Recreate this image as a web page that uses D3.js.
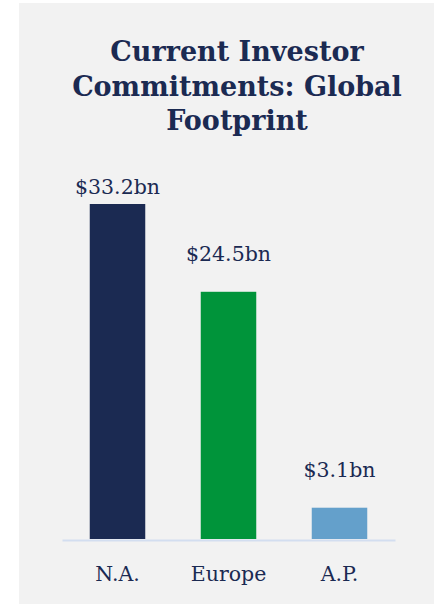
<!DOCTYPE html>
<html>
<head>
<meta charset="utf-8">
<script src="https://cdn.jsdelivr.net/npm/d3@7"></script>
<style>
  html, body { margin: 0; padding: 0; background: #ffffff; }
  svg { display: block; }
</style>
</head>
<body>
<svg id="chart" width="434" height="604"></svg>
<script>
// Regions and committed capital (USD billions)
const categories = ["N.A.", "Europe", "A.P."];
const values = [33.2, 24.5, 3.1];
const valueLabels = ["$33.2bn", "$24.5bn", "$3.1bn"];
const barColors = ["#1b2a52", "#00943a", "#64a0cb"];
const titleLines = ["Current Investor", "Commitments: Global", "Footprint"];

const W = 434, H = 604;
const navy = "#1b2a52";
const serif = "Georgia, 'DejaVu Serif', serif";

const svg = d3.select("#chart");

// panel background
svg.append("rect")
  .attr("x", 19).attr("y", 3)
  .attr("width", W - 19).attr("height", H - 3)
  .attr("fill", "#f2f2f2");

// title
const title = svg.append("text")
  .attr("text-anchor", "middle")
  .attr("font-family", serif)
  .attr("font-weight", "bold")
  .attr("font-size", 27)
  .attr("fill", navy);
titleLines.forEach((t, i) => {
  title.append("tspan")
    .attr("x", 237)
    .attr("y", 61 + i * 34.5)
    .text(t);
});

// scales
const plotLeft = 62, plotRight = 395;
const baseY = 539, topY = 204;

const x = d3.scaleBand()
  .domain(categories)
  .range([plotLeft, plotRight])
  .paddingInner(0.5)
  .paddingOuter(0.25);

const y = d3.scaleLinear()
  .domain([0, d3.max(values)])
  .range([baseY, topY]);

const data = categories.map((c, i) => ({
  cat: c, value: values[i], label: valueLabels[i], color: barColors[i]
}));

// bars
svg.append("g").selectAll("rect")
  .data(data)
  .join("rect")
  .attr("x", d => x(d.cat))
  .attr("y", d => y(d.value))
  .attr("width", x.bandwidth())
  .attr("height", d => baseY - y(d.value))
  .attr("fill", d => d.color);

// baseline axis
const axis = svg.append("g")
  .attr("transform", `translate(0,${baseY + 1})`)
  .call(d3.axisBottom(x).tickSize(0).tickPadding(26));
axis.select(".domain")
  .attr("stroke", "#d3def0")
  .attr("stroke-width", 2);
axis.selectAll(".tick text")
  .attr("font-family", serif)
  .attr("font-size", 20.5)
  .attr("fill", navy);

// value labels above the bars
svg.append("g").selectAll("text")
  .data(data)
  .join("text")
  .attr("x", d => x(d.cat) + x.bandwidth() / 2)
  .attr("y", d => Math.max(y(d.value) - 31, 194))
  .attr("text-anchor", "middle")
  .attr("font-family", serif)
  .attr("font-size", 20.5)
  .attr("fill", navy)
  .text(d => d.label);
</script>
</body>
</html>
